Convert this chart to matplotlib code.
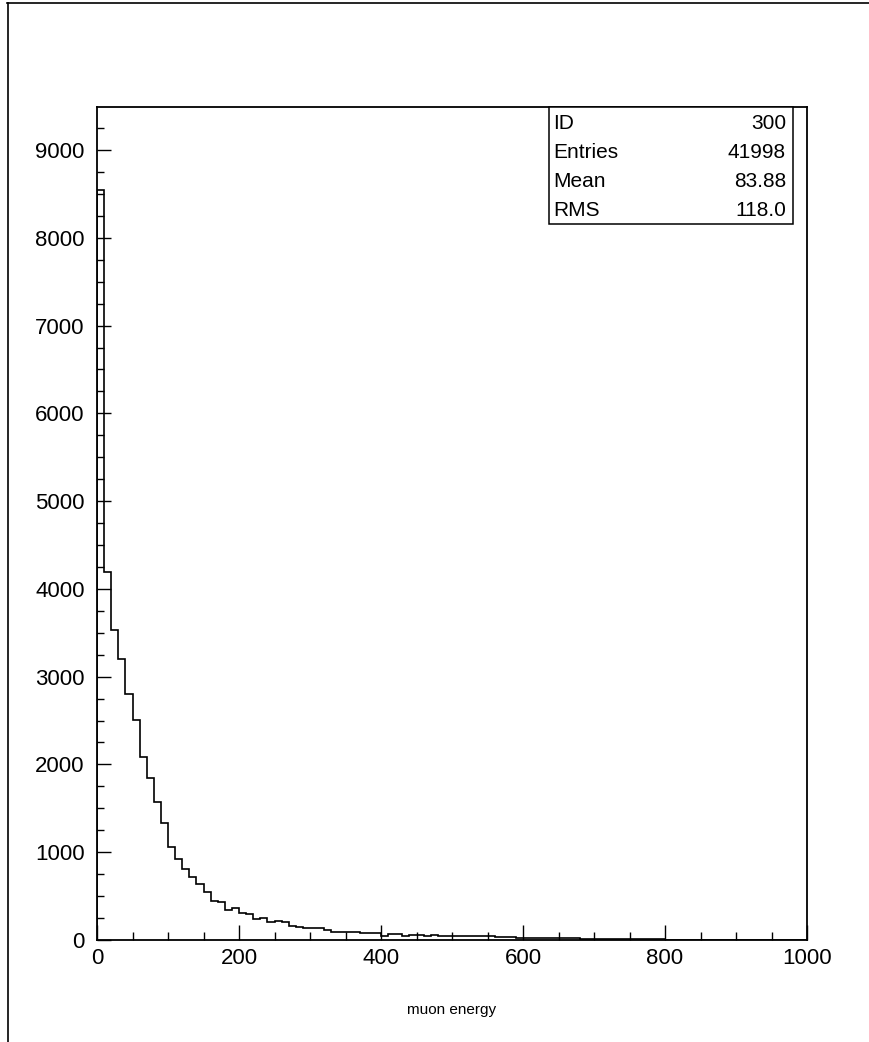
import matplotlib
matplotlib.use("Agg")
import matplotlib.pyplot as plt
import numpy as np
from matplotlib.ticker import MultipleLocator

plt.rcParams['font.family'] = ['Liberation Sans', 'DejaVu Sans']

# muon energy histogram, 100 bins of width 10 from 0 to 1000
bin_lo = 0
bin_hi = 1000
counts = [8550, 4190, 3535, 3205, 2800, 2510, 2090, 1850, 1570, 1330,
          1065, 920, 805, 720, 635, 550, 440, 435, 345, 360,
          310, 295, 240, 250, 205, 215, 200, 155, 150, 140,
          140, 135, 115, 95, 95, 95, 90, 80, 75, 75,
          45, 65, 65, 45, 55, 60, 50, 55, 45, 45,
          50, 45, 40, 40, 42, 40, 35, 30, 30, 28,
          25, 25, 22, 22, 20, 20, 18, 20, 15, 15,
          14, 12, 12, 10, 10, 9, 8, 8, 7, 6,
          5, 5, 4, 4, 3, 3, 3, 2, 2, 2,
          2, 1, 1, 1, 1, 1, 0, 1, 0, 0]

stat_names = ["ID", "Entries", "Mean", "RMS"]
stat_values = ["300", "41998", "83.88", "118.0"]

x_major = [0, 200, 400, 600, 800, 1000]
y_major = [0, 1000, 2000, 3000, 4000, 5000, 6000, 7000, 8000, 9000]

fig = plt.figure(figsize=(8.70, 10.42), dpi=100)
ax = fig.add_axes([0.1115, 0.0979, 0.8161, 0.7994])

edges = np.linspace(bin_lo, bin_hi, len(counts) + 1)
ax.stairs(counts, edges, color="black", linewidth=1.2, baseline=0)

ax.set_xlim(bin_lo, bin_hi)
ax.set_ylim(0, 9490)

ax.set_xticks(x_major)
ax.set_xticklabels([str(v) for v in x_major])
ax.set_yticks(y_major)
ax.set_yticklabels([str(v) for v in y_major])
ax.xaxis.set_minor_locator(MultipleLocator(50))
ax.yaxis.set_minor_locator(MultipleLocator(250))

ax.tick_params(which="both", direction="in", width=1.0, colors="black",
               labelsize=16)
ax.tick_params(axis="x", which="major", length=11, pad=6)
ax.tick_params(axis="x", which="minor", length=6)
ax.tick_params(axis="y", which="major", length=10, pad=9)
ax.tick_params(axis="y", which="minor", length=5)

for sp in ax.spines.values():
    sp.set_linewidth(1.3)

ax.set_xlabel("muon energy", fontsize=11, labelpad=24)

# stats box in the upper right corner
box_x0, box_x1 = 0.6315, 0.9115
box_y1 = 1 - 107 / 1042
box_y0 = 1 - 224 / 1042
fig.patches.append(plt.Rectangle((box_x0, box_y0), box_x1 - box_x0,
                                 box_y1 - box_y0, transform=fig.transFigure,
                                 fill=True, facecolor="white",
                                 edgecolor="black", linewidth=1.1, zorder=5))
row_h = (box_y1 - box_y0) / len(stat_names)
for i, (name, val) in enumerate(zip(stat_names, stat_values)):
    yy = box_y1 - (i + 0.55) * row_h
    fig.text(box_x0 + 0.004, yy, name, fontsize=15, va="center", ha="left",
             zorder=6)
    fig.text(box_x1 - 0.008, yy, val, fontsize=15, va="center", ha="right",
             zorder=6)

# outer page frame (top and left edges)
fig.add_artist(plt.Line2D([0.008, 1.0], [0.997, 0.997], color="black",
                          linewidth=1.2, transform=fig.transFigure))
fig.add_artist(plt.Line2D([0.0095, 0.0095], [0.0, 0.997], color="black",
                          linewidth=1.2, transform=fig.transFigure))

fig.savefig("out.png", dpi=100)
